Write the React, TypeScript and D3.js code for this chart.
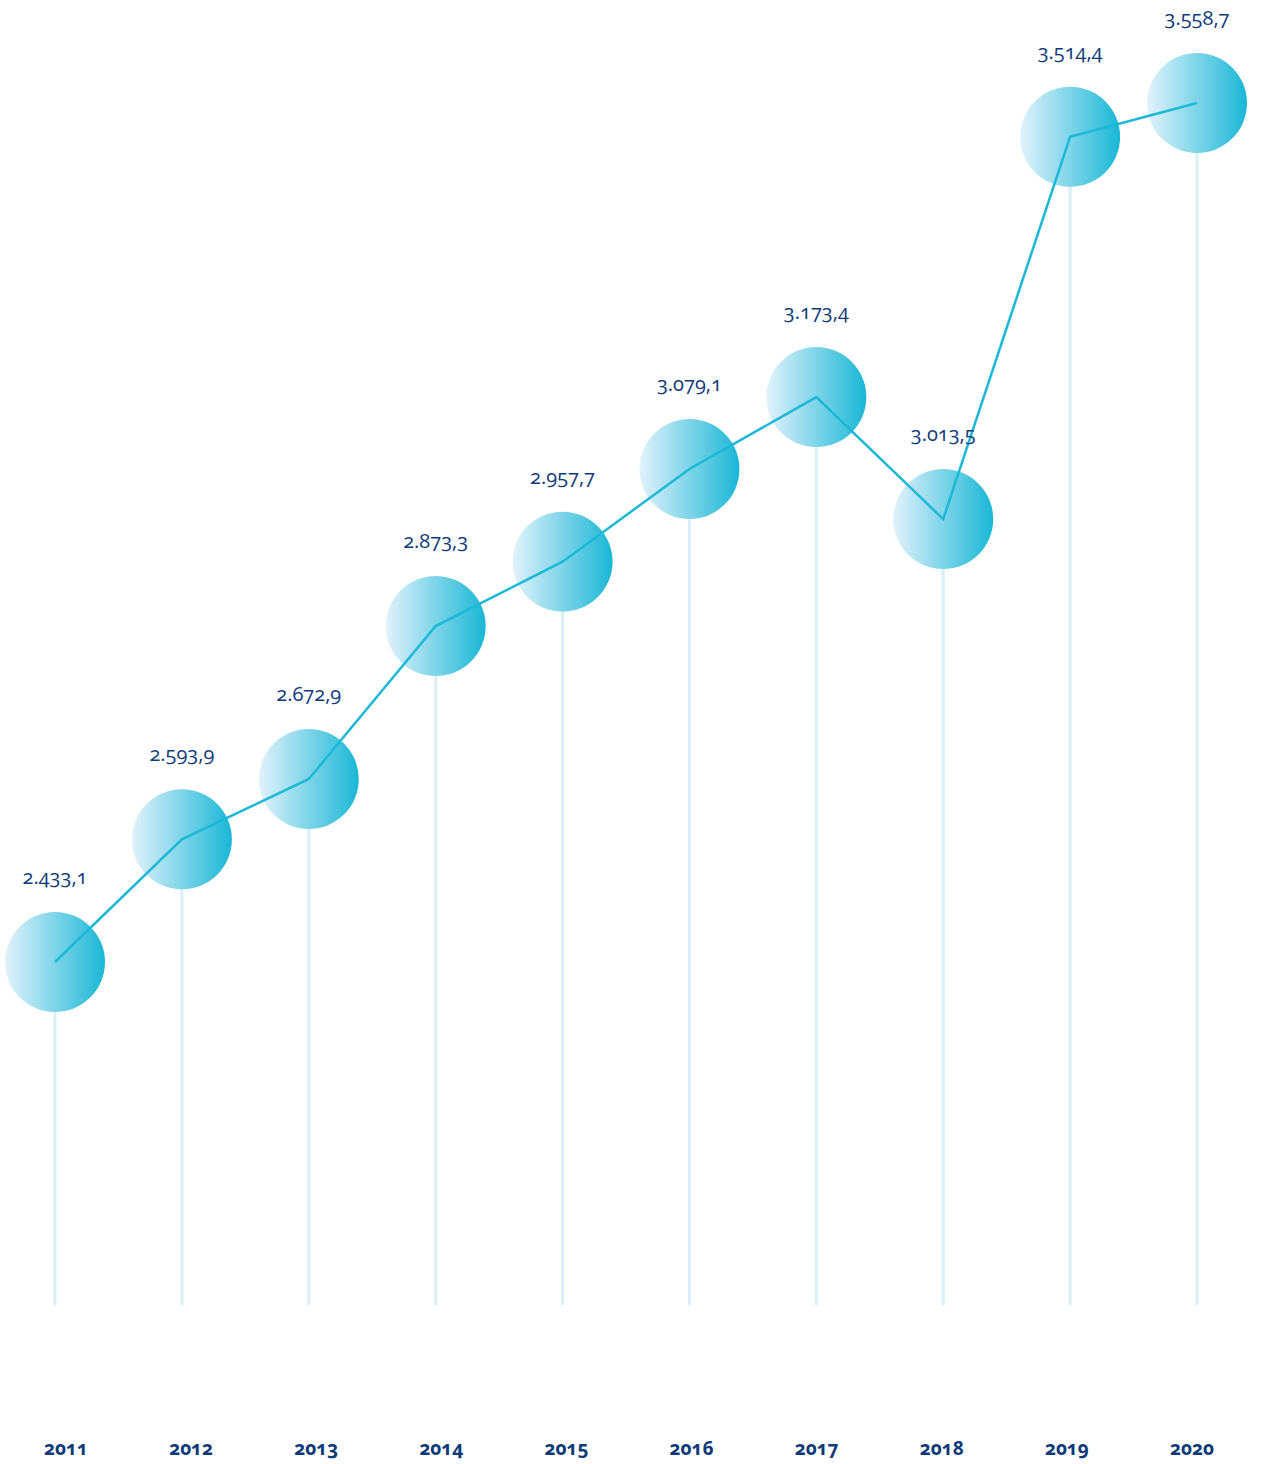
import React, { useEffect, useRef } from 'react';
import * as d3 from 'd3';

// chart data
const years = ['2011', '2012', '2013', '2014', '2015', '2016', '2017', '2018', '2019', '2020'];
const values = [2433.1, 2593.9, 2672.9, 2873.3, 2957.7, 3079.1, 3173.4, 3013.5, 3514.4, 3558.7];
const valueLabels = ['2.433,1', '2.593,9', '2.672,9', '2.873,3', '2.957,7', '3.079,1', '3.173,4', '3.013,5', '3.514,4', '3.558,7'];

const W = 1261, H = 1464;

const App = () => {
  const ref = useRef<SVGSVGElement>(null);

  useEffect(() => {
    if (!ref.current) return;
    const svg = d3.select(ref.current);
    svg.selectAll('*').remove();

    const data = years.map((y, i) => ({ year: y, value: values[i], label: valueLabels[i] }));

    // scales
    const x = d3.scalePoint<string>().domain(years).range([55, 1197]);
    const xLabel = d3.scalePoint<string>().domain(years).range([66, 1192]);
    const y = d3.scaleLinear().domain([2433.1, 3558.7]).range([962, 103]);
    const r = 50;
    const baseY = 1305;

    const defs = svg.append('defs');
    const grad = defs.append('linearGradient').attr('id', 'bubble').attr('x1', '0%').attr('x2', '100%').attr('y1', '0%').attr('y2', '0%');
    grad.append('stop').attr('offset', '0%').attr('stop-color', '#e2f2fc');
    grad.append('stop').attr('offset', '100%').attr('stop-color', '#19b7d5');

    // vertical stems
    svg.append('g').selectAll('line')
      .data(data)
      .join('line')
      .attr('x1', d => x(d.year)!)
      .attr('x2', d => x(d.year)!)
      .attr('y1', d => y(d.value))
      .attr('y2', baseY)
      .attr('stroke', '#dbeff7')
      .attr('stroke-width', 3);

    // bubbles
    svg.append('g').selectAll('circle')
      .data(data)
      .join('circle')
      .attr('cx', d => x(d.year)!)
      .attr('cy', d => y(d.value))
      .attr('r', r)
      .attr('fill', 'url(#bubble)');

    // connecting line on top
    const line = d3.line<typeof data[0]>().x(d => x(d.year)!).y(d => y(d.value));
    svg.append('path')
      .datum(data)
      .attr('d', line)
      .attr('fill', 'none')
      .attr('stroke', '#1db8d6')
      .attr('stroke-width', 2.5);

    // value labels
    svg.append('g').selectAll('text')
      .data(data)
      .join('text')
      .attr('x', d => x(d.year)!)
      .attr('y', d => y(d.value) - 78)
      .attr('text-anchor', 'middle')
      .attr('font-family', '"Open Sans", sans-serif')
      .attr('font-size', 20)
      .attr('font-weight', 500)
      .style('font-variant-numeric', 'oldstyle-nums')
      .attr('fill', '#0e3a78')
      .text(d => d.label);

    // year labels
    svg.append('g').selectAll('text')
      .data(data)
      .join('text')
      .attr('x', d => xLabel(d.year)!)
      .attr('y', 1455)
      .attr('text-anchor', 'middle')
      .attr('font-family', '"Open Sans", sans-serif')
      .attr('font-weight', 700)
      .attr('font-size', 19)
      .style('font-variant-numeric', 'oldstyle-nums')
      .attr('fill', '#0e3a78')
      .text(d => d.year);
  }, []);

  return (
    <svg ref={ref} width={W} height={H} style={{ display: 'block', position: 'absolute', left: 0, top: 0 }} />
  );
};

export default App;
